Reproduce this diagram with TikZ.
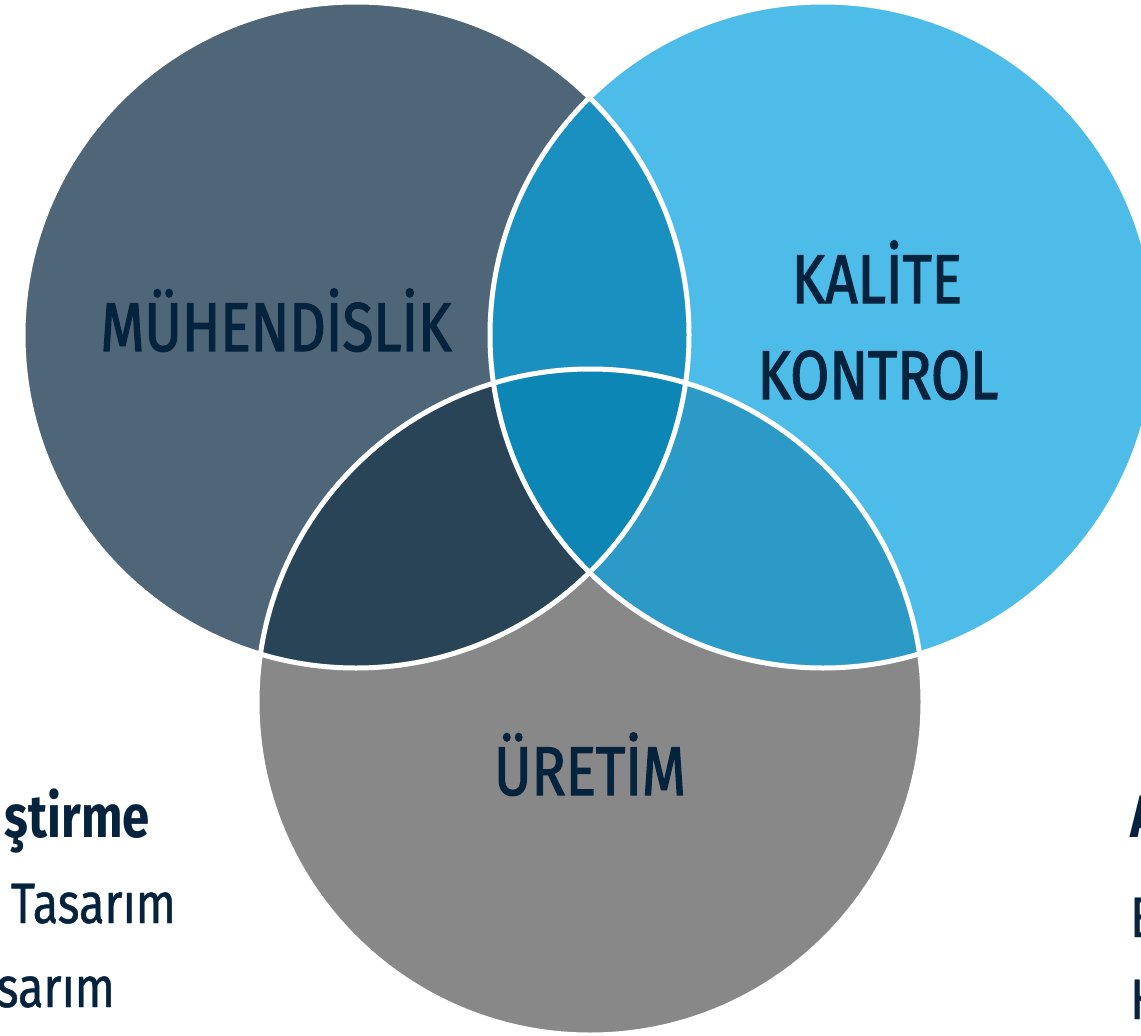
\documentclass[tikz,border=0pt]{standalone}
\usepackage{fontspec}
\newfontfamily\titlefont[FakeStretch=0.82,FakeBold=1.8]{Fira Sans}
\newfontfamily\bodyfont[FakeStretch=0.82,FakeBold=0.8]{Fira Sans}
\newfontfamily\bodyboldfont[FakeStretch=0.82]{Fira Sans Bold}
\definecolor{cleft}{HTML}{4F6679}
\definecolor{cright}{HTML}{4DBCE9}
\definecolor{cbottom}{HTML}{888888}
\definecolor{clr}{HTML}{1A90C0}
\definecolor{clb}{HTML}{284456}
\definecolor{crb}{HTML}{2B9AC7}
\definecolor{call}{HTML}{0C86B4}
\definecolor{ink}{HTML}{06233D}
\tikzset{
  title/.style={font=\titlefont\fontsize{69}{69}\selectfont, text=ink, inner sep=0pt, anchor=base},
  body/.style={font=\bodyfont\fontsize{57}{57}\selectfont, text=ink, inner sep=0pt},
  bodybold/.style={font=\bodyboldfont\fontsize{60}{60}\selectfont, text=ink, inner sep=0pt},
  ring/.style={draw=white, line width=5pt}
}
\begin{document}
\begin{tikzpicture}[x=1pt,y=-1pt]
\useasboundingbox (0,0) rectangle (1141,1036);
\clip (0,0) rectangle (1141,1036);
\coordinate (cL) at (356,335);
\coordinate (cR) at (823,335);
\coordinate (cB) at (590,702);
% base circles
\fill[cleft] (cL) circle (333pt);
\fill[cright] (cR) circle (333pt);
\fill[cbottom] (cB) circle (333pt);
% pairwise intersections
\begin{scope}
  \clip (cL) circle (333pt);
  \fill[clr] (cR) circle (333pt);
  \fill[clb] (cB) circle (333pt);
\end{scope}
\begin{scope}
  \clip (cR) circle (333pt);
  \fill[crb] (cB) circle (333pt);
\end{scope}
\begin{scope}
  \clip (cL) circle (333pt);
  \clip (cR) circle (333pt);
  \fill[call] (cB) circle (333pt);
\end{scope}
% white outlines
\draw[ring] (cL) circle (333pt);
\draw[ring] (cR) circle (333pt);
\draw[ring] (cB) circle (333pt);
% labels
\node[title] (muh) at (276,351) {MÜHENDİSLİK};
\node[title] (kal) at (877,303) {KALİTE};
\node[title] (kon) at (878,399) {KONTROL};
\node[title] (ure) at (590,795) {ÜRETİM};
% cut-off side texts
\node[bodybold, anchor=base east] (l1) at (150,837) {ştirme};
\node[body, anchor=base east] (l2) at (176,923) {Tasarım};
\node[body, anchor=base east] (l3) at (115,1007) {sarım};
\node[bodybold, anchor=base west] (r1) at (1130,837) {A};
\node[body, anchor=base west] (r2) at (1130,937) {E};
\node[body, anchor=base west] (r3) at (1130,1019) {H};
\end{tikzpicture}
\end{document}
